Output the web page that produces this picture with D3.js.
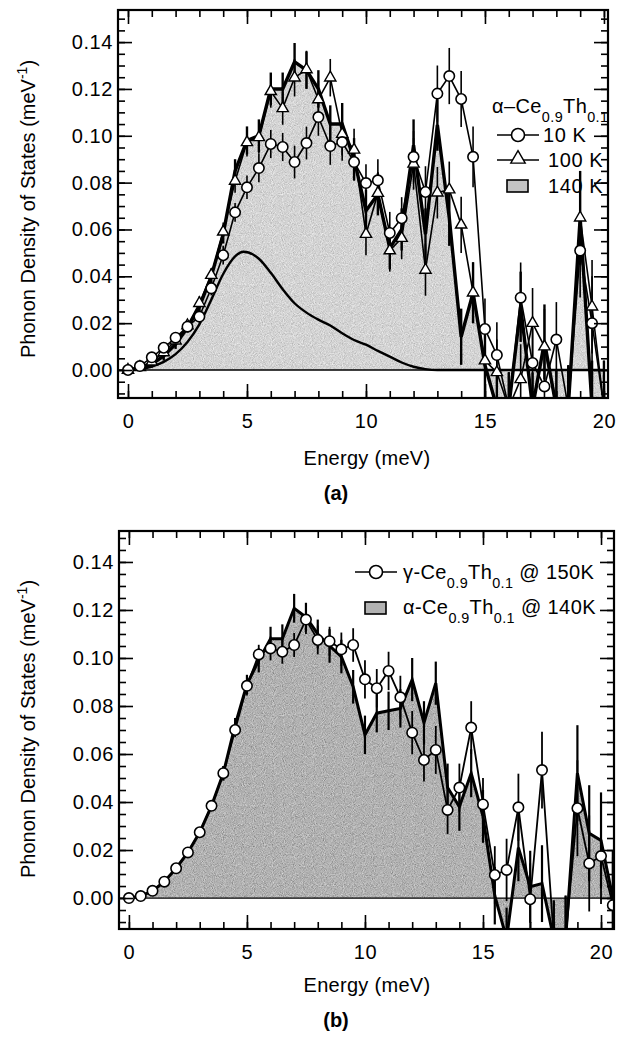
<!DOCTYPE html>
<html lang="en">
<head>
<meta charset="utf-8">
<title>Phonon DOS</title>
<style>
  body { margin: 0; background: #fff; }
  text { font-family: "Liberation Sans", Arial, Helvetica, sans-serif; fill: #000; }
</style>
</head>
<body>
<svg id="fig" width="618" height="1045"></svg>
<script src="https://d3js.org/d3.v7.min.js"></script>
<script>

// ---- panel (a) data: alpha-Ce0.9Th0.1 ----
var energyA = [0, 0.5, 1, 1.5, 2, 2.5, 3, 3.5, 4, 4.5, 5, 5.5, 6, 6.5, 7, 7.5, 8, 8.5, 9, 9.5,
               10, 10.5, 11, 11.5, 12, 12.5, 13, 13.5, 14, 14.5, 15, 15.5, 16, 16.5, 17, 17.5, 18, 18.5, 19, 19.5, 20];

var dos10K = [0, 0.0017, 0.0054, 0.0095, 0.0138, 0.0185, 0.0228, 0.0349, 0.049, 0.0673, 0.078, 0.0862, 0.0965, 0.0952, 0.0888, 0.0969, 0.108, 0.0956, 0.0973, 0.0888,
              0.0798, 0.081, 0.0585, 0.0648, 0.091, 0.076, 0.118, 0.1255, 0.1157, 0.091, 0.0175, 0.0064, -0.016, 0.0309, 0.003, -0.007, 0.013, -0.016, 0.051, 0.020, -0.016];
var err10K = [0.001, 0.001, 0.0015, 0.002, 0.002, 0.002, 0.003, 0.003, 0.004, 0.004, 0.005, 0.006, 0.006, 0.006, 0.007, 0.007, 0.008, 0.008, 0.008, 0.008,
              0.008, 0.009, 0.009, 0.009, 0.011, 0.011, 0.012, 0.012, 0.012, 0.013, 0.013, 0.014, 0.015, 0.015, 0.015, 0.016, 0.016, 0.018, 0.02, 0.02, 0.02];

var dos100K = [0, 0.0012, 0.0035, 0.0075, 0.0125, 0.019, 0.0285, 0.0405, 0.059, 0.0807, 0.0972, 0.0993, 0.119, 0.1117, 0.1248, 0.1283, 0.1155, 0.1248, 0.1007, 0.094,
               0.058, 0.0755, 0.051, 0.0563, 0.088, 0.0427, 0.0757, 0.077, 0.062, 0.033, 0.004, -0.001, -0.016, -0.004, 0.020, 0.010, -0.016, -0.016, 0.065, 0.027, -0.016];
var err100K = [0.001, 0.001, 0.0015, 0.002, 0.002, 0.002, 0.003, 0.003, 0.004, 0.005, 0.006, 0.007, 0.007, 0.007, 0.008, 0.008, 0.008, 0.008, 0.009, 0.009,
               0.009, 0.009, 0.009, 0.009, 0.011, 0.011, 0.011, 0.012, 0.012, 0.013, 0.014, 0.014, 0.015, 0.015, 0.015, 0.016, 0.016, 0.018, 0.02, 0.02, 0.02];

var dos140K = [0, 0.0008, 0.0025, 0.006, 0.011, 0.018, 0.027, 0.040, 0.058, 0.085, 0.098, 0.100, 0.120, 0.120, 0.1316, 0.128, 0.120, 0.105, 0.105, 0.090,
               0.068, 0.075, 0.052, 0.060, 0.096, 0.058, 0.1046, 0.065, 0.0142, 0.033, 0.002, -0.016, -0.016, 0.027, -0.016, 0.012, -0.016, -0.016, 0.065, -0.016, -0.016];
var err140K = [0.001, 0.001, 0.0015, 0.002, 0.002, 0.002, 0.003, 0.003, 0.004, 0.005, 0.006, 0.007, 0.007, 0.007, 0.008, 0.008, 0.008, 0.008, 0.009, 0.009,
               0.009, 0.009, 0.009, 0.009, 0.011, 0.011, 0.011, 0.012, 0.012, 0.013, 0.014, 0.014, 0.015, 0.015, 0.015, 0.016, 0.016, 0.018, 0.02, 0.02, 0.02];

// smooth calculated curve in panel (a)
var energyCalc = [0, 0.5, 1, 1.5, 2, 2.5, 3, 3.5, 4, 4.5, 4.85, 5.5, 6, 6.5, 7, 7.5, 8, 8.5, 9, 9.5, 10, 10.5, 11, 11.5, 12, 12.5, 13, 14, 15, 16, 17, 18, 19, 20];
var dosCalc = [0, 0.0004, 0.0015, 0.0035, 0.0068, 0.012, 0.0195, 0.030, 0.041, 0.0485, 0.0505, 0.0475, 0.0415, 0.0345, 0.0285, 0.0245, 0.0215, 0.019, 0.0157, 0.0128,
               0.0108, 0.0082, 0.0057, 0.0032, 0.0014, 0.0004, 0, 0, 0, 0, 0, 0, 0, 0];

// ---- panel (b) data ----
var energyB = [0, 0.5, 1, 1.5, 2, 2.5, 3, 3.5, 4, 4.5, 5, 5.5, 6, 6.5, 7, 7.5, 8, 8.5, 9, 9.5,
               10, 10.5, 11, 11.5, 12, 12.5, 13, 13.5, 14, 14.5, 15, 15.5, 16, 16.5, 17, 17.5, 18, 18.5, 19, 19.5, 20, 20.5];

var dosGamma = [0, 0.0008, 0.003, 0.0068, 0.0124, 0.019, 0.0274, 0.0384, 0.052, 0.070, 0.0884, 0.1015, 0.104, 0.1026, 0.1054, 0.116, 0.1075, 0.107, 0.1036, 0.1054,
                0.0911, 0.0874, 0.0946, 0.0836, 0.0689, 0.0575, 0.0617, 0.0367, 0.046, 0.071, 0.039, 0.0096, 0.0117, 0.0378, -0.0005, 0.0533, -0.017, -0.017, 0.0374, 0.0144, 0.0175, -0.003];
var errGamma = [0.0005, 0.0005, 0.001, 0.001, 0.0015, 0.0015, 0.002, 0.002, 0.003, 0.003, 0.004, 0.004, 0.005, 0.005, 0.005, 0.006, 0.006, 0.006, 0.007, 0.007,
                0.008, 0.008, 0.008, 0.009, 0.009, 0.009, 0.01, 0.01, 0.01, 0.011, 0.011, 0.012, 0.013, 0.014, 0.015, 0.016, 0.016, 0.018, 0.02, 0.02, 0.02, 0.02];

var dosAlpha = [0, 0.0008, 0.003, 0.0068, 0.0124, 0.019, 0.0274, 0.0384, 0.052, 0.072, 0.089, 0.099, 0.108, 0.108, 0.1207, 0.117, 0.110, 0.105, 0.1006, 0.088,
                0.068, 0.077, 0.078, 0.079, 0.091, 0.073, 0.0895, 0.046, 0.038, 0.052, 0.034, 0.001, -0.017, 0.021, 0.0047, 0.006, -0.017, -0.017, 0.052, 0.027, 0.024, 0.0];
var errAlpha = [0.0005, 0.0005, 0.001, 0.001, 0.0015, 0.0015, 0.002, 0.002, 0.003, 0.003, 0.004, 0.005, 0.005, 0.006, 0.006, 0.006, 0.006, 0.007, 0.007, 0.007,
                0.008, 0.008, 0.008, 0.008, 0.009, 0.009, 0.009, 0.01, 0.01, 0.01, 0.011, 0.012, 0.013, 0.014, 0.015, 0.016, 0.016, 0.018, 0.02, 0.02, 0.02, 0.02];

var xMajor = [0, 5, 10, 15, 20];
var yMajor = [0, 0.02, 0.04, 0.06, 0.08, 0.10, 0.12, 0.14];
var xMinor = [0, 1, 2, 3, 4, 5, 6, 7, 8, 9, 10, 11, 12, 13, 14, 15, 16, 17, 18, 19, 20];
var yMinor = [-0.01, -0.005, 0, 0.005, 0.01, 0.015, 0.02, 0.025, 0.03, 0.035, 0.04, 0.045, 0.05, 0.055,
              0.06, 0.065, 0.07, 0.075, 0.08, 0.085, 0.09, 0.095, 0.10, 0.105, 0.11, 0.115, 0.12, 0.125, 0.13, 0.135, 0.14, 0.145, 0.15];

var svg = d3.select("#fig");
var FS = 20;

// grainy print-like texture for the shaded areas
var filt = svg.append("defs").append("filter").attr("id", "stipple")
    .attr("x", 0).attr("y", 0).attr("width", 1).attr("height", 1);
filt.append("feTurbulence").attr("type", "fractalNoise").attr("baseFrequency", 1.1)
    .attr("numOctaves", 1).attr("seed", 5).attr("result", "noise");
filt.append("feColorMatrix").attr("in", "noise").attr("type", "matrix")
    .attr("values", "0.33 0.33 0.33 0 0  0.33 0.33 0.33 0 0  0.33 0.33 0.33 0 0  0 0 0 0 1")
    .attr("result", "gray");
filt.append("feComposite").attr("in", "SourceGraphic").attr("in2", "gray").attr("operator", "arithmetic")
    .attr("k1", 0).attr("k2", 1).attr("k3", 1.1).attr("k4", -0.55).attr("result", "mix");
filt.append("feComposite").attr("in", "mix").attr("in2", "SourceGraphic").attr("operator", "in");

function zip(xs, ys, es) {
    return xs.map(function(x, i) { return { x: x, y: ys[i], e: es ? es[i] : 0 }; });
}

function makePanel(id, box, xDom, yDom) {
    var g = svg.append("g").attr("transform", "translate(" + box.left + "," + box.top + ")");
    var w = box.right - box.left, h = box.bottom - box.top;
    var x = d3.scaleLinear().domain(xDom).range([0, w]);
    var y = d3.scaleLinear().domain(yDom).range([h, 0]);

    svg.append("clipPath").attr("id", "clip-" + id)
        .append("rect").attr("width", w).attr("height", h);

    var plot = g.append("g").attr("clip-path", "url(#clip-" + id + ")");

    // zero line
    plot.append("line")
        .attr("x1", 0).attr("x2", w)
        .attr("y1", y(0)).attr("y2", y(0))
        .attr("stroke", "#000").attr("stroke-width", 1.3);

    return { g: g, plot: plot, x: x, y: y, w: w, h: h };
}

function drawFrame(p) {
    var g = p.g;
    var axes = [
        [d3.axisBottom(p.x), "translate(0," + p.h + ")", xMinor, xMajor, true],
        [d3.axisTop(p.x), null, xMinor, xMajor, false],
        [d3.axisLeft(p.y), null, yMinor, yMajor, true],
        [d3.axisRight(p.y), "translate(" + p.w + ",0)", yMinor, yMajor, false]
    ];
    axes.forEach(function(a) {
        var minor = g.append("g").call(a[0].tickValues(a[2]).tickSize(-7).tickFormat(""));
        var major = g.append("g").call(a[0].tickValues(a[3]).tickSize(-14)
            .tickFormat(a[4] ? (a[3] === xMajor ? d3.format("d") : d3.format(".2f")) : ""));
        [minor, major].forEach(function(s) {
            if (a[1]) s.attr("transform", a[1]);
            s.select(".domain").remove();
            s.selectAll("line").attr("stroke", "#000").attr("stroke-width", 1.6);
            s.selectAll("text").attr("font-size", FS).attr("letter-spacing", 0.6)
                .style("font-family", '"Liberation Sans", Arial, sans-serif');
        });
        if (a[3] === xMajor) major.selectAll("text").attr("dy", "1.35em");
        else major.selectAll("text").attr("dx", "-0.1em");
    });
    g.append("rect").attr("width", p.w).attr("height", p.h)
        .attr("fill", "none").attr("stroke", "#000").attr("stroke-width", 2.2);
}

function errorBars(p, pts, width) {
    p.plot.append("g").selectAll("line").data(pts).enter().append("line")
        .attr("x1", function(d) { return p.x(d.x); })
        .attr("x2", function(d) { return p.x(d.x); })
        .attr("y1", function(d) { return p.y(d.y - d.e); })
        .attr("y2", function(d) { return p.y(d.y + d.e); })
        .attr("stroke", "#000").attr("stroke-width", width);
}

function linePath(p, pts, width) {
    var line = d3.line().x(function(d) { return p.x(d.x); }).y(function(d) { return p.y(d.y); });
    p.plot.append("path").datum(pts).attr("d", line)
        .attr("fill", "none").attr("stroke", "#000").attr("stroke-width", width)
        .attr("stroke-linejoin", "miter");
}

function filledSeries(p, pts, fill) {
    var area = d3.area().x(function(d) { return p.x(d.x); })
        .y0(p.y(0)).y1(function(d) { return p.y(d.y); });
    p.plot.insert("path", ":first-child").datum(pts).attr("d", area)
        .attr("fill", fill).attr("filter", "url(#stipple)");
}

function circles(p, pts, r) {
    p.plot.append("g").selectAll("circle").data(pts).enter().append("circle")
        .attr("cx", function(d) { return p.x(d.x); })
        .attr("cy", function(d) { return p.y(d.y); })
        .attr("r", r).attr("fill", "#fff").attr("stroke", "#000").attr("stroke-width", 1.6);
}

function triangles(p, pts, size) {
    var sym = d3.symbol().type(d3.symbolTriangle).size(size);
    p.plot.append("g").selectAll("path").data(pts).enter().append("path")
        .attr("d", sym)
        .attr("transform", function(d) { return "translate(" + p.x(d.x) + "," + p.y(d.y) + ")"; })
        .attr("fill", "#fff").attr("stroke", "#000").attr("stroke-width", 1.4);
}

// subscript-style label: parts = [[text, isSub], ...]
function chemLabel(g, xPos, yPos, parts, size) {
    var t = g.append("text").attr("x", xPos).attr("y", yPos).attr("font-size", size).attr("letter-spacing", 0.4);
    var shift = 0;
    parts.forEach(function(pt) {
        var dy = 0;
        if (pt[1] && shift === 0) { dy = 9; shift = 9; }
        else if (!pt[1] && shift !== 0) { dy = -9; shift = 0; }
        t.append("tspan").attr("dy", dy).attr("font-size", pt[1] ? size * 0.72 : size).text(pt[0]);
    });
    return t;
}

// ===== panel (a) =====
var pa = makePanel("a", { left: 118, right: 608, top: 10, bottom: 398 }, [-0.42, 20.17], [-0.01195, 0.1537]);
var ptsA10 = zip(energyA, dos10K, err10K);
var ptsA100 = zip(energyA, dos100K, err100K);
var ptsA140 = zip(energyA, dos140K, err140K);
filledSeries(pa, ptsA140, "#d4d4d4");
var calcLine = d3.line().curve(d3.curveMonotoneX)
    .x(function(d) { return pa.x(d.x); }).y(function(d) { return pa.y(d.y); });
pa.plot.append("path").datum(zip(energyCalc, dosCalc)).attr("d", calcLine)
    .attr("fill", "none").attr("stroke", "#000").attr("stroke-width", 2.4);
errorBars(pa, ptsA140, 2.4);
linePath(pa, ptsA140, 3.4);
errorBars(pa, ptsA100, 1.6);
linePath(pa, ptsA100, 1.6);
errorBars(pa, ptsA10, 1.6);
linePath(pa, ptsA10, 1.6);
triangles(pa, ptsA100, 55);
circles(pa, ptsA10, 5.2);
drawFrame(pa);

// legend (a)
var lg = pa.g;
chemLabel(lg, 374, 103, [["\u03b1\u2013Ce", false], ["0.9", true], ["Th", false], ["0.1", true]], FS);
lg.append("line").attr("x1", 379).attr("x2", 421).attr("y1", 125).attr("y2", 125).attr("stroke", "#000").attr("stroke-width", 1.6);
lg.append("circle").attr("cx", 400).attr("cy", 125).attr("r", 6.5).attr("fill", "#fff").attr("stroke", "#000").attr("stroke-width", 1.6);
lg.append("text").attr("x", 425).attr("y", 132).attr("font-size", FS).attr("letter-spacing", 0.6).text("10 K");
lg.append("line").attr("x1", 379).attr("x2", 421).attr("y1", 150).attr("y2", 150).attr("stroke", "#000").attr("stroke-width", 1.6);
lg.append("path").attr("d", d3.symbol().type(d3.symbolTriangle).size(90)).attr("transform", "translate(400,149)")
    .attr("fill", "#fff").attr("stroke", "#000").attr("stroke-width", 1.4);
lg.append("text").attr("x", 430).attr("y", 157).attr("font-size", FS).attr("letter-spacing", 0.6).text("100 K");
lg.append("rect").attr("x", 389).attr("y", 170).attr("width", 21).attr("height", 12)
    .attr("fill", "#c4c4c4").attr("stroke", "#000").attr("stroke-width", 1.6);
lg.append("text").attr("x", 430).attr("y", 183).attr("font-size", FS).attr("letter-spacing", 0.6).text("140 K");

// ===== panel (b) =====
var pb = makePanel("b", { left: 119, right: 614, top: 531, bottom: 929 }, [-0.42, 20.55], [-0.0129, 0.1529]);
var ptsBg = zip(energyB, dosGamma, errGamma);
var ptsBa = zip(energyB, dosAlpha, errAlpha);
filledSeries(pb, ptsBa, "#b2b2b2");
errorBars(pb, ptsBa, 2.2);
linePath(pb, ptsBa, 3.0);
errorBars(pb, ptsBg, 1.8);
linePath(pb, ptsBg, 1.8);
circles(pb, ptsBg, 5.2);
drawFrame(pb);

var lb = pb.g;
lb.append("line").attr("x1", 236).attr("x2", 278).attr("y1", 41).attr("y2", 41).attr("stroke", "#000").attr("stroke-width", 1.6);
lb.append("circle").attr("cx", 257).attr("cy", 41).attr("r", 6.5).attr("fill", "#fff").attr("stroke", "#000").attr("stroke-width", 1.6);
chemLabel(lb, 284, 48, [["\u03b3-Ce", false], ["0.9", true], ["Th", false], ["0.1", true], [" @ 150K", false]], FS);
lb.append("rect").attr("x", 246).attr("y", 71).attr("width", 21).attr("height", 12)
    .attr("fill", "#b2b2b2").attr("stroke", "#000").attr("stroke-width", 1.6);
chemLabel(lb, 284, 83, [["\u03b1-Ce", false], ["0.9", true], ["Th", false], ["0.1", true], [" @ 140K", false]], FS);

// ===== axis titles and panel letters =====
[[209, 458, 493, "(a)"], [729, 985, 1020, "(b)"]].forEach(function(r) {
    var yt = svg.append("text").attr("transform", "translate(35," + r[0] + ") rotate(-90)")
        .attr("text-anchor", "middle").attr("font-size", FS);
    yt.append("tspan").text("Phonon Density of States (meV");
    yt.append("tspan").attr("dy", -8).attr("font-size", 14).text("-1");
    yt.append("tspan").attr("dy", 8).text(")");
    svg.append("text").attr("x", 367).attr("y", r[1] + 7).attr("text-anchor", "middle")
        .attr("font-size", FS).attr("letter-spacing", 0.3).text("Energy (meV)");
    svg.append("text").attr("x", 336).attr("y", r[2] + 7).attr("text-anchor", "middle")
        .attr("font-size", FS).attr("font-weight", "bold").text(r[3]);
});
</script>
</body>
</html>
